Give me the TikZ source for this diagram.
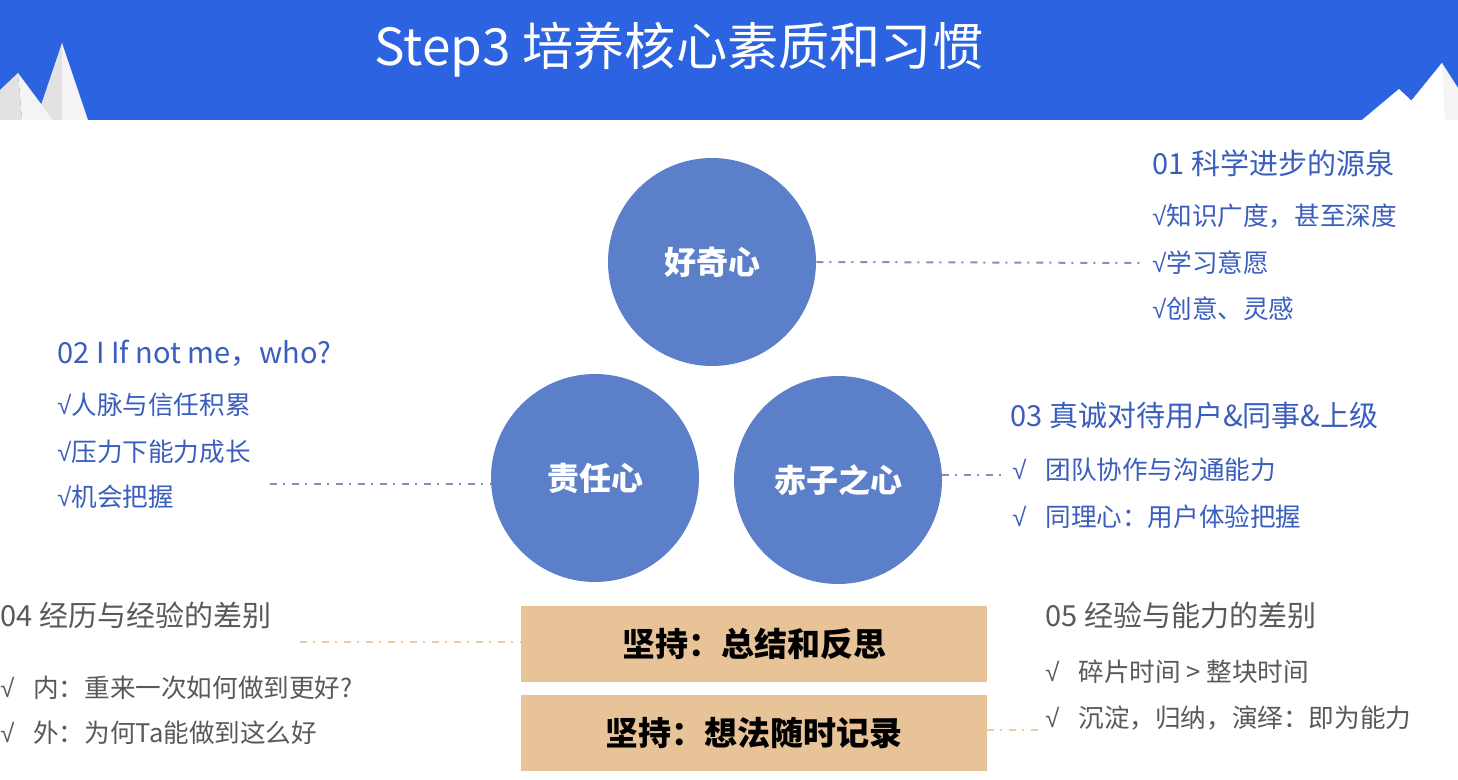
\documentclass[tikz,border=0pt]{standalone}
\usepackage{fontspec}
\setmainfont{Noto Sans CJK SC}
\newfontfamily\ckfont{Liberation Sans}
\newcommand{\ckm}{{\ckfont √}}
\newcommand{\ckw}{\makebox[16.5pt][l]{\ckfont √}}
\definecolor{headerblue}{HTML}{2C63E0}
\definecolor{circblue}{HTML}{5B7FC9}
\definecolor{txtblue}{HTML}{3A5EBE}
\definecolor{txtgray}{HTML}{595959}
\definecolor{tanbox}{HTML}{E8C398}
\definecolor{lineblue}{HTML}{8090C0}
\definecolor{linetan}{HTML}{EBCB9F}
\definecolor{mgray}{HTML}{E2E2E2}
\definecolor{mlight}{HTML}{F4F4F4}
\begin{document}
\begin{tikzpicture}[x=0.5pt,y=-0.5pt,
  circ/.style={circle,fill=circblue,minimum size=104pt,inner sep=0pt,text=white,font=\fontsize{16}{19}\selectfont\bfseries},
  stickbox/.style={rectangle,fill=tanbox,minimum width=233pt,minimum height=38pt,inner sep=0pt,text=black,font=\fontsize{16.5}{20}\selectfont\bfseries},
  ttl/.style={anchor=west,inner sep=0pt,font=\fontsize{14.5}{17}\selectfont},
  item/.style={anchor=west,inner sep=0pt,font=\fontsize{12.8}{15}\selectfont},
  ddash/.style={line width=1pt,dash pattern=on 3.5pt off 3pt on 1pt off 3.5pt}]
\useasboundingbox (0,0) rectangle (1458,780);
\fill[white] (0,0) rectangle (1458,780);
% header band
\fill[headerblue] (0,0) rectangle (1458,120);
% left mountains
\fill[mgray] (62,43) -- (62,120) -- (36,120) -- cycle;
\fill[mlight] (62,43) -- (88,120) -- (62,120) -- cycle;
\fill[mgray] (18,73) -- (0,90) -- (0,120) -- (22,120) -- cycle;
\fill[mlight] (18,73) -- (53,120) -- (22,120) -- cycle;
% right mountains
\fill[mlight] (1442,63) -- (1458,88) -- (1458,120) -- (1395,120) -- (1412,100) -- cycle;
\fill[white] (1442,63) -- (1445,120) -- (1395,120) -- (1412,100) -- cycle;
\fill[white] (1399,89) -- (1415,104) -- (1405,120) -- (1362,120) -- cycle;
% title
\node[inner sep=0pt,text=white,font=\fontsize{25.6}{30}\selectfont] (title) at (679,50) {Step3 培养核心素质和习惯};
% circles
\node[circ] (hq) at (712,262) {好奇心};
\node[circ] (zr) at (595,478) {责任心};
\node[circ] (cz) at (838,480) {赤子之心};
% boxes
\node[stickbox] (b1) at (754,644) {坚持：总结和反思};
\node[stickbox] (b2) at (754,733) {坚持：想法随时记录};
% group 01
\node[ttl,text=txtblue] (t1) at (1152,163) {01 科学进步的源泉};
\node[item,text=txtblue] (t1a) at (1152,216) {\ckm 知识广度，甚至深度};
\node[item,text=txtblue] (t1b) at (1152,263) {\ckm 学习意愿};
\node[item,text=txtblue] (t1c) at (1152,309) {\ckm 创意、灵感};
% group 02
\node[ttl,text=txtblue] (t2) at (57,353) {02 I If not me，who?};
\node[item,text=txtblue] (t2a) at (57,405) {\ckm 人脉与信任积累};
\node[item,text=txtblue] (t2b) at (57,452) {\ckm 压力下能力成长};
\node[item,text=txtblue] (t2c) at (57,497) {\ckm 机会把握};
% group 03
\node[ttl,text=txtblue] (t3) at (1010,415) {03 真诚对待用户\&同事\&上级};
\node[item,text=txtblue] (t3a) at (1012,470) {\ckw 团队协作与沟通能力};
\node[item,text=txtblue] (t3b) at (1012,517) {\ckw 同理心：用户体验把握};
% group 04
\node[ttl,text=txtgray] (t4) at (0,615) {04 经历与经验的差别};
\node[item,text=txtgray] (t4a) at (0,688) {\ckw 内：重来一次如何做到更好?};
\node[item,text=txtgray] (t4b) at (0,733) {\ckw 外：为何Ta能做到这么好};
% group 05
\node[ttl,text=txtgray] (t5) at (1045,615) {05 经验与能力的差别};
\node[item,text=txtgray] (t5a) at (1045,672) {\ckw 碎片时间 > 整块时间};
\node[item,text=txtgray] (t5b) at (1045,718) {\ckw 沉淀，归纳，演绎：即为能力};
% connectors
\coordinate (c1) at (1140,263);
\coordinate (c2) at (270,484);
\coordinate (c3) at (1005,475);
\coordinate (c4) at (300,642);
\coordinate (c5) at (1038,730);
\draw[ddash,lineblue] (hq.east) -- (c1);
\draw[ddash,lineblue] (c2) -- (c2 -| zr.west);
\draw[ddash,lineblue] (c3 -| cz.east) -- (c3);
\draw[ddash,linetan] (c4) -- (c4 -| b1.west);
\draw[ddash,linetan] (c5 -| b2.east) -- (c5);
\end{tikzpicture}
\end{document}
